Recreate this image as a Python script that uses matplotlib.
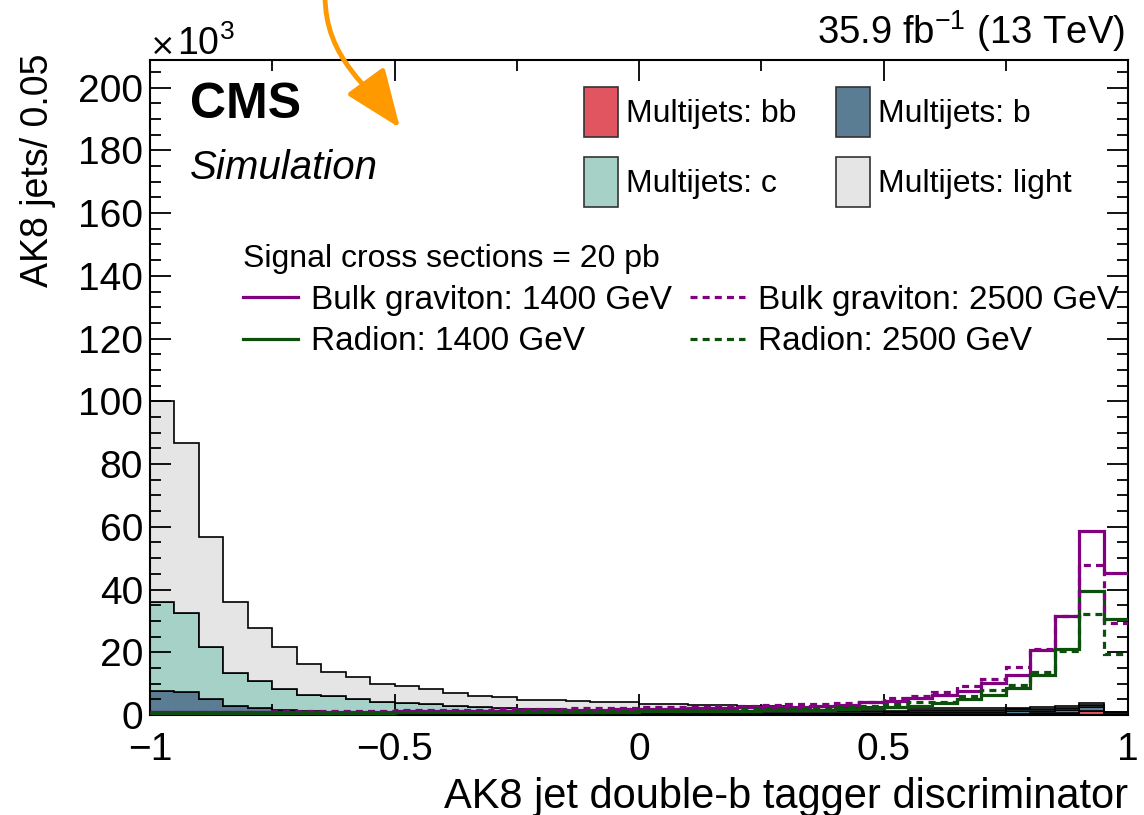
import numpy as np
import matplotlib
matplotlib.use("Agg")
import matplotlib.pyplot as plt
from matplotlib.patches import Patch, FancyArrowPatch
from matplotlib.lines import Line2D
from matplotlib.path import Path
from matplotlib.ticker import MultipleLocator, FuncFormatter

plt.rcParams['font.family'] = ['Liberation Sans', 'DejaVu Sans']
plt.rcParams['mathtext.fontset'] = 'custom'
plt.rcParams['mathtext.rm'] = 'Liberation Sans'

# 40 bins of 0.05 from -1 to 1, values in units of 10^3 jets
bin_edges = np.linspace(-1, 1, 41)

mj_bb = [1.0, 0.9, 0.6, 0.4, 0.3, 0.3, 0.2, 0.2, 0.2, 0.2,
         0.2, 0.2, 0.2, 0.2, 0.2, 0.2, 0.2, 0.2, 0.2, 0.2,
         0.2, 0.2, 0.2, 0.2, 0.2, 0.2, 0.2, 0.2, 0.2, 0.2,
         0.2, 0.2, 0.3, 0.3, 0.3, 0.4, 0.5, 0.7, 1.2, 0.4]
mj_b = [6.8, 6.3, 4.4, 2.6, 1.8, 1.3, 1.1, 0.9, 0.8, 0.7,
        0.6, 0.5, 0.5, 0.4, 0.4, 0.4, 0.4, 0.4, 0.4, 0.4,
        0.4, 0.4, 0.4, 0.4, 0.4, 0.4, 0.4, 0.4, 0.5, 0.5,
        0.6, 0.6, 0.6, 0.7, 0.8, 0.8, 0.9, 1.0, 1.4, 0.4]
mj_c = [28.1, 25.3, 16.8, 10.4, 8.8, 6.6, 5.2, 4.8, 4.2, 3.2,
        3.0, 2.8, 2.2, 1.9, 1.5, 1.4, 1.2, 1.1, 1.0, 1.0,
        0.9, 0.8, 0.8, 0.7, 0.7, 0.7, 0.7, 0.7, 0.6, 0.7,
        0.6, 0.7, 0.7, 0.6, 0.6, 0.6, 0.6, 0.6, 0.6, 0.1]
mj_light = [64.1, 54.2, 34.8, 22.6, 16.9, 13.6, 9.8, 7.7, 7.0, 5.8,
            5.5, 4.7, 4.0, 3.6, 3.5, 2.8, 3.0, 2.8, 2.5, 2.5,
            2.0, 2.1, 1.7, 1.8, 1.6, 1.5, 1.4, 1.3, 1.2, 1.0,
            0.9, 0.7, 0.6, 0.5, 0.4, 0.4, 0.4, 0.5, 0.5, 0.1]

grav_1400 = [0.9, 0.8, 0.8, 0.8, 0.9, 0.9, 1.0, 1.0, 1.1, 1.1,
             1.2, 1.2, 1.3, 1.3, 1.4, 1.5, 1.5, 1.6, 1.7, 1.8,
             1.9, 2.0, 2.1, 2.2, 2.4, 2.5, 2.7, 2.9, 3.2, 4.3,
             4.5, 5.4, 6.4, 7.5, 10.2, 12.9, 20.7, 31.6, 58.6, 45.3]
grav_2500 = [1.0, 1.0, 1.0, 1.1, 1.1, 1.2, 1.2, 1.3, 1.3, 1.4,
             1.5, 1.5, 1.6, 1.7, 1.8, 1.9, 2.0, 2.1, 2.2, 2.3,
             2.5, 2.6, 2.7, 2.9, 3.0, 3.2, 3.4, 3.6, 3.9, 4.3,
             5.4, 6.2, 7.3, 9.4, 11.5, 15.2, 21.1, 31.6, 47.9, 29.3]
rad_1400 = [0.6, 0.6, 0.6, 0.6, 0.6, 0.6, 0.7, 0.7, 0.7, 0.7,
            0.8, 0.8, 0.8, 0.9, 0.9, 0.9, 1.0, 1.0, 1.1, 1.1,
            1.2, 1.2, 1.3, 1.3, 1.4, 1.5, 1.6, 1.7, 1.9, 2.1,
            2.5, 2.9, 3.8, 5.1, 6.4, 8.6, 12.9, 20.9, 39.6, 30.7]
rad_2500 = [0.7, 0.7, 0.7, 0.7, 0.7, 0.8, 0.8, 0.8, 0.9, 0.9,
            0.9, 1.0, 1.0, 1.1, 1.1, 1.2, 1.2, 1.3, 1.3, 1.4,
            1.5, 1.5, 1.6, 1.7, 1.8, 1.9, 2.0, 2.2, 2.4, 2.8,
            3.4, 4.0, 4.3, 5.9, 8.0, 9.6, 13.6, 20.4, 32.2, 19.3]

bkg_labels = ['Multijets: bb', 'Multijets: b', 'Multijets: c', 'Multijets: light']
bkg_colors = ['#e0555f', '#5b7d94', '#a6d1c6', '#e5e5e5']
sig_labels = ['Bulk graviton: 1400 GeV', 'Bulk graviton: 2500 GeV',
              'Radion: 1400 GeV', 'Radion: 2500 GeV']
purple = '#800080'
green = '#0d4f0d'

fig = plt.figure(figsize=(11.44, 8.15), dpi=100)
ax = fig.add_axes([150/1144, 1-715/815, 978/1144, 655/815])

bottom = np.zeros(40)
for vals, col in zip([mj_bb, mj_b, mj_c, mj_light], bkg_colors):
    vals = np.array(vals)
    ax.stairs(bottom + vals, bin_edges, baseline=bottom.copy(), fill=True,
              facecolor=col, edgecolor='black', linewidth=1.2)
    bottom = bottom + vals

dash = (0, (2.2, 1.6))
ax.stairs(grav_1400, bin_edges, baseline=None, color=purple, lw=2.3, zorder=5)
ax.stairs(rad_1400, bin_edges, baseline=None, color=green, lw=2.3, zorder=5)
ax.stairs(grav_2500, bin_edges, baseline=None, color=purple, lw=2.3, ls=dash, zorder=6)
ax.stairs(rad_2500, bin_edges, baseline=None, color=green, lw=2.3, ls=dash, zorder=6)

ax.set_xlim(-1, 1)
ax.set_ylim(0, 208.8)
ax.xaxis.set_major_locator(MultipleLocator(0.5))
ax.xaxis.set_minor_locator(MultipleLocator(0.25))
ax.yaxis.set_major_locator(MultipleLocator(20))
ax.yaxis.set_minor_locator(MultipleLocator(5))
fmt = FuncFormatter(lambda v, p: f"{v:g}".replace('-', '\u2212'))
ax.xaxis.set_major_formatter(fmt)
ax.yaxis.set_major_formatter(fmt)
ax.tick_params(which='both', direction='in', top=True, right=True, width=1.3)
ax.tick_params(which='major', length=15, labelsize=28)
ax.tick_params(axis='x', which='major', pad=12)
ax.tick_params(axis='y', which='major', pad=5)
ax.tick_params(which='minor', length=8)
for s in ax.spines.values():
    s.set_linewidth(1.5)

ax.set_xlabel('AK8 jet double-b tagger discriminator', fontsize=30, loc='right')
ax.xaxis.set_label_coords(1.0, -0.094)
ax.set_ylabel('AK8 jets/ 0.05', fontsize=27, loc='top')
ax.yaxis.set_label_coords(-0.096, 1.01)

# axis multiplier: a bigger times sign, then 10^3
fig.text(150/1144, 1-55/815, '\u00d7', fontsize=22, family='DejaVu Sans',
         ha='left', va='baseline')
fig.text(177/1144, 1-55/815, '10$^{3}$', fontsize=27, ha='left', va='baseline')
fig.text(1125/1144, 1-44/815, r'35.9 fb$^{\mathregular{-1}}$ (13 TeV)', fontsize=27.5,
         ha='right', va='baseline')
fig.text(190/1144, 1-105/815, 'CMS', fontsize=36, fontweight='bold', va='center', ha='left')
fig.text(190/1144, 1-168/815, 'Simulation', fontsize=29, style='italic', va='center', ha='left')

bkg_handles = [Patch(facecolor=c, edgecolor='#333333', linewidth=1.2) for c in bkg_colors]
leg1 = ax.legend([bkg_handles[0], bkg_handles[2], bkg_handles[1], bkg_handles[3]],
                 [bkg_labels[0], bkg_labels[2], bkg_labels[1], bkg_labels[3]],
                 ncol=2, fontsize=23, frameon=False, loc='upper left',
                 bbox_to_anchor=(584/1144, 1-87/815), bbox_transform=fig.transFigure,
                 borderpad=0, borderaxespad=0, handlelength=1.06, handleheight=2.02,
                 handletextpad=0.25, labelspacing=0.64, columnspacing=1.25)
ax.add_artist(leg1)

sig_handles = [Line2D([], [], color=purple, lw=2.3),
               Line2D([], [], color=green, lw=2.3),
               Line2D([], [], color=purple, lw=2.3, ls=dash),
               Line2D([], [], color=green, lw=2.3, ls=dash)]
leg2 = ax.legend(sig_handles, [sig_labels[0], sig_labels[2], sig_labels[1], sig_labels[3]],
                 ncol=2, fontsize=24, title='Signal cross sections = 20 pb',
                 title_fontsize=23, alignment='left', frameon=False, loc='upper left',
                 bbox_to_anchor=(243/1144, 1-244/815), bbox_transform=fig.transFigure,
                 borderpad=0, borderaxespad=0, handlelength=1.65, handletextpad=0.4,
                 labelspacing=0.32, columnspacing=0.53)

# orange pointer arrow at the top, drawn as a cubic curve in figure fractions
arrow_px = [(325, -5), (325, 60), (370, 87), (400, 128)]
arrow_path = Path([(x/1144, 1-y/815) for x, y in arrow_px],
                  [Path.MOVETO, Path.CURVE4, Path.CURVE4, Path.CURVE4])
arrow = FancyArrowPatch(path=arrow_path, transform=fig.transFigure,
                        arrowstyle='-|>,head_length=1.5,head_width=0.6',
                        mutation_scale=24, color='#ff9900', lw=3.5, zorder=10)
fig.patches.append(arrow)

fig.savefig('out.png', dpi=100)
